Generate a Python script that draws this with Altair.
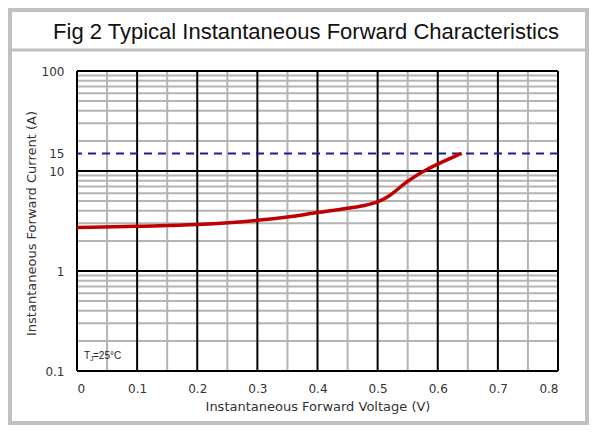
import altair as alt
import pandas as pd

# Curve
voltage = [0.0, 0.1, 0.2, 0.3, 0.35, 0.4, 0.45, 0.48, 0.5, 0.52, 0.55, 0.585, 0.6, 0.62, 0.64]
current = [2.72, 2.80, 2.91, 3.21, 3.47, 3.84, 4.24, 4.55, 4.9, 5.7, 7.9, 10.6, 11.7, 13.3, 15.0]

x_major = [0.0, 0.1, 0.2, 0.3, 0.4, 0.5, 0.6, 0.7, 0.8]
x_minor = [0.05, 0.15, 0.25, 0.35, 0.45, 0.55, 0.65, 0.75]
y_major = [0.1, 1, 10, 100]
y_minor = [0.2, 0.3, 0.4, 0.5, 0.6, 0.7, 0.8, 0.9,
           2, 3, 4, 5, 6, 7, 8, 9,
           20, 30, 40, 50, 60, 70, 80, 90]
y_labels = [0.1, 1, 10, 15, 100]
limit_current = [15]

title_text = "Fig 2 Typical Instantaneous Forward Characteristics"
x_title = "Instantaneous Forward Voltage (V)"
y_title = "Instantaneous Forward Current (A)"

LABEL_FONT = "DejaVu Sans"

xscale = alt.Scale(domain=[0, 0.8], nice=False, zero=False)
yscale = alt.Scale(type="log", domain=[0.1, 100], nice=False)

curve_df = pd.DataFrame({"V": voltage, "I": current})
one = pd.DataFrame({"k": [0]})

minor_x = alt.Chart(pd.DataFrame({"v": x_minor})).mark_rule(
    color="#b4b4b4", strokeWidth=2).encode(
    x=alt.X("v:Q", scale=xscale))
minor_y = alt.Chart(pd.DataFrame({"v": y_minor})).mark_rule(
    color="#b4b4b4", strokeWidth=2).encode(
    y=alt.Y("v:Q", scale=yscale))
major_x = alt.Chart(pd.DataFrame({"v": x_major})).mark_rule(
    color="#000000", strokeWidth=2).encode(
    x=alt.X("v:Q", scale=xscale,
            axis=alt.Axis(values=x_major, format="~g", title=x_title,
                          grid=False, ticks=False, domain=False,
                          labelFont=LABEL_FONT, labelFontSize=12,
                          labelColor="#333333", labelPadding=12,
                          titleFont=LABEL_FONT, titleFontSize=13,
                          titleFontWeight="normal", titleColor="#333333",
                          titlePadding=6)))
major_y = alt.Chart(pd.DataFrame({"v": y_major})).mark_rule(
    color="#000000", strokeWidth=2).encode(
    y=alt.Y("v:Q", scale=yscale,
            axis=alt.Axis(values=y_labels, format="~g", title=y_title,
                          grid=False, ticks=False, domain=False,
                          labelOverlap=False,
                          labelFont=LABEL_FONT, labelFontSize=12,
                          labelColor="#333333", labelPadding=13,
                          titleFont=LABEL_FONT, titleFontSize=13,
                          titleFontWeight="normal", titleColor="#333333",
                          titleX=-46, titleY=152, titleAngle=270,
                          titleAlign="center", titleBaseline="middle")))

dashed = alt.Chart(pd.DataFrame({"v": limit_current})).mark_rule(
    color="#1c1c9c", strokeWidth=2, strokeDash=[8, 6]).encode(
    y=alt.Y("v:Q", scale=yscale))

curve = alt.Chart(curve_df).mark_line(
    color="#c00000", strokeWidth=3.5, interpolate="monotone").encode(
    x=alt.X("V:Q", scale=xscale),
    y=alt.Y("I:Q", scale=yscale))

ann_T = alt.Chart(one).mark_text(
    text="T", font="Liberation Sans", fontSize=10, align="left",
    baseline="alphabetic", color="#222222").encode(
    x=alt.value(7), y=alt.value(288))
ann_J = alt.Chart(one).mark_text(
    text="J", font="Liberation Sans", fontSize=7, align="left",
    baseline="alphabetic", color="#222222").encode(
    x=alt.value(13), y=alt.value(290))
ann_rest = alt.Chart(one).mark_text(
    text="=25°C", font="Liberation Sans", fontSize=10, align="left",
    baseline="alphabetic", color="#222222").encode(
    x=alt.value(16), y=alt.value(288))

title = alt.Chart(one).mark_text(
    text=title_text, font="Liberation Sans", fontSize=22, align="center",
    baseline="alphabetic", color="#111111").encode(
    x=alt.value(229), y=alt.value(-32))

frame = alt.Chart(one).mark_rect(
    fill=None, stroke="#c0c0c0", strokeWidth=4).encode(
    x=alt.value(-67), x2=alt.value(510), y=alt.value(-61), y2=alt.value(352))
divider = alt.Chart(one).mark_rule(
    color="#c0c0c0", strokeWidth=3).encode(
    x=alt.value(-67), x2=alt.value(510), y=alt.value(-21))

chart = alt.layer(
    minor_x, minor_y, major_x, major_y, dashed, curve,
    ann_T, ann_J, ann_rest, title, frame, divider
).properties(
    width=481, height=300,
    autosize=alt.AutoSizeParams(type="none"),
    padding={"left": 69, "top": 63, "right": 31, "bottom": 54},
    background="white",
).configure_view(stroke=None)

chart.save("out.html", embed_options={"renderer": "svg", "actions": False})
